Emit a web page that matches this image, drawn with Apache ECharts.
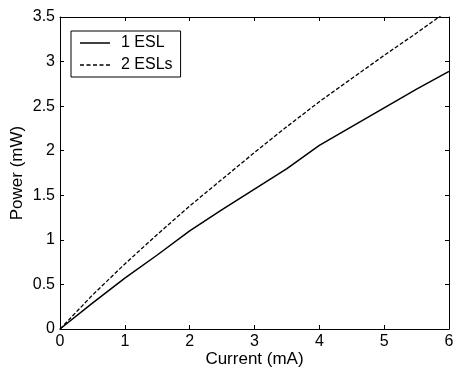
<!DOCTYPE html>
<html><head><meta charset="utf-8">
<script src="https://cdn.jsdelivr.net/npm/echarts@6/dist/echarts.min.js"></script>
<style>html,body{margin:0;padding:0;background:#fff}#c{width:454px;height:369px}</style>
</head><body><div id="c"></div>
<script>
const current = [0, 0.5, 1, 1.5, 2, 2.5, 3, 3.5, 4, 4.5, 5, 5.5, 6];
const oneESL = [0, 0.29, 0.57, 0.83, 1.10, 1.34, 1.57, 1.80, 2.06, 2.27, 2.48, 2.69, 2.89];
const twoESLs = [0, 0.38, 0.73, 1.06, 1.38, 1.68, 1.98, 2.27, 2.55, 2.81, 3.07, 3.32, 3.58];
const seriesNames = ['1 ESL', '2 ESLs'];

const font = 'Liberation Sans, Arial, sans-serif';
const chart = echarts.init(document.getElementById('c'));
const axisCommon = {
  axisLine: {show: true, onZero: false, lineStyle: {color: '#000', width: 1}},
  axisTick: {show: true, inside: true, length: 4, lineStyle: {color: '#000'}},
  splitLine: {show: false}
};
const solidIcon = 'path://M0,0H30V1.5H0Z';
const dashIcon = 'path://M0,0H4V1.5H0Z M6.5,0H10.5V1.5H6.5Z M13,0H17V1.5H13Z M19.5,0H23.5V1.5H19.5Z M26,0H30V1.5H26Z';
chart.setOption({
  animation: false,
  backgroundColor: '#fff',
  grid: {left: 60, right: 5, top: 17, bottom: 40, containLabel: false, outerBoundsMode: 'none'},
  legend: {
    orient: 'vertical', left: 71, top: 31,
    itemWidth: 30, itemHeight: 1.5, itemGap: 6,
    padding: [4, 8, 4, 9],
    borderColor: '#000', borderWidth: 1, backgroundColor: '#fff',
    textStyle: {fontFamily: font, fontSize: 16, color: '#000', padding: [0, 0, 0, 6]},
    data: [{name: seriesNames[0], icon: solidIcon}, {name: seriesNames[1], icon: dashIcon}]
  },
  xAxis: [
    Object.assign({type: 'value', min: 0, max: 6, interval: 1, position: 'bottom',
      name: 'Current (mA)', nameLocation: 'middle', nameGap: 22, nameMoveOverlap: false,
      nameTextStyle: {fontFamily: font, fontSize: 17, color: '#000'},
      axisLabel: {fontFamily: font, fontSize: 16, color: '#000', margin: 5}}, axisCommon),
    Object.assign({type: 'value', min: 0, max: 6, interval: 1, position: 'top',
      axisLabel: {show: false}}, axisCommon)
  ],
  yAxis: [
    Object.assign({type: 'value', min: 0, max: 3.5, interval: 0.5, position: 'left',
      name: 'Power (mW)', nameLocation: 'middle', nameGap: 34, nameMoveOverlap: false,
      nameTextStyle: {fontFamily: font, fontSize: 17, color: '#000'},
      axisLabel: {fontFamily: font, fontSize: 16, color: '#000', margin: 5}}, axisCommon),
    Object.assign({type: 'value', min: 0, max: 3.5, interval: 0.5, position: 'right',
      axisLabel: {show: false}}, axisCommon)
  ],
  series: [
    {name: seriesNames[0], type: 'line', symbol: 'none', clip: true,
     data: current.map((x, i) => [x, oneESL[i]]),
     lineStyle: {color: '#000', width: 1.5, type: 'solid'}, itemStyle: {color: '#000'}},
    {name: seriesNames[1], type: 'line', symbol: 'none', clip: true,
     data: current.map((x, i) => [x, twoESLs[i]]),
     lineStyle: {color: '#000', width: 1.3, type: [4, 2]}, itemStyle: {color: '#000'}}
  ]
});
</script></body></html>
